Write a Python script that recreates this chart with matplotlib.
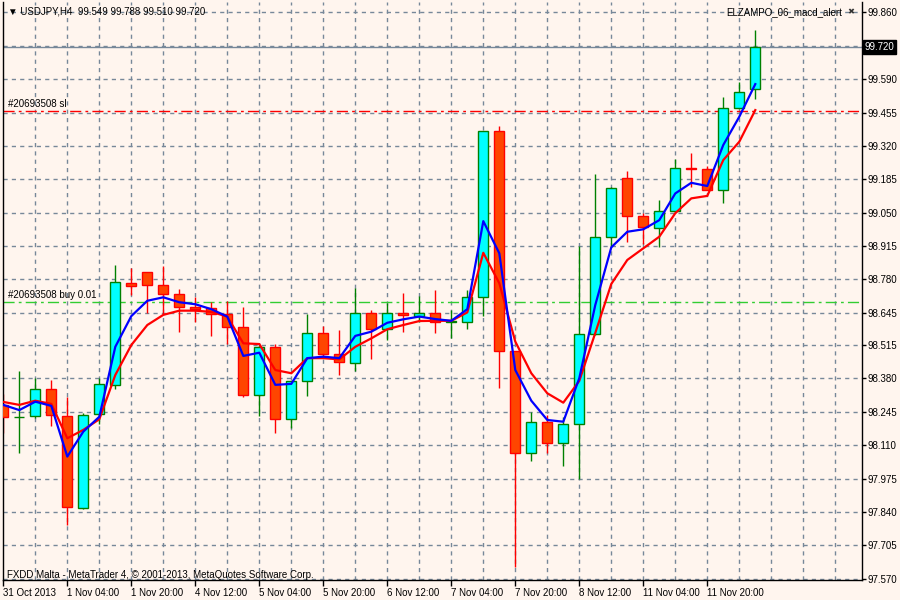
import matplotlib.pyplot as plt
from matplotlib.transforms import blended_transform_factory

plt.rcParams['font.family'] = ['Liberation Sans', 'DejaVu Sans']
plt.rcParams['lines.scale_dashes'] = False

# USDJPY H4 candles
opens = [98.273, 98.223, 98.227, 98.336, 98.228, 97.855, 98.235, 98.352, 98.765, 98.809,
         98.757, 98.720, 98.668, 98.664, 98.640, 98.587, 98.312, 98.506, 98.215, 98.368,
         98.562, 98.478, 98.444, 98.643, 98.579, 98.643, 98.634, 98.643, 98.609, 98.607,
         98.710, 99.379, 98.490, 98.077, 98.203, 98.118, 98.195, 98.558, 98.953, 99.189,
         99.037, 98.987, 99.058, 99.229, 99.225, 99.142, 99.472, 99.549]
highs = [98.317, 98.410, 98.381, 98.374, 98.306, 98.239, 98.383, 98.839, 98.825, 98.812,
         98.835, 98.742, 98.710, 98.690, 98.694, 98.670, 98.510, 98.518, 98.370, 98.640,
         98.592, 98.576, 98.747, 98.657, 98.686, 98.724, 98.713, 98.738, 98.657, 98.738,
         99.382, 99.402, 98.492, 98.243, 98.232, 98.225, 98.915, 99.206, 99.152, 99.219,
         99.050, 99.101, 99.267, 99.290, 99.239, 99.516, 99.580, 99.788]
lows = [98.161, 98.077, 98.219, 98.189, 97.788, 97.852, 98.196, 98.336, 98.717, 98.643,
        98.640, 98.569, 98.609, 98.553, 98.518, 98.306, 98.229, 98.158, 98.178, 98.310,
        98.472, 98.394, 98.411, 98.460, 98.535, 98.569, 98.609, 98.565, 98.542, 98.580,
        98.634, 98.340, 97.619, 98.048, 98.077, 98.027, 97.974, 98.555, 98.913, 98.933,
        98.924, 98.910, 99.055, 99.155, 99.140, 99.090, 99.470, 99.510]
closes = [98.223, 98.226, 98.336, 98.231, 97.859, 98.232, 98.358, 98.770, 98.754, 98.757,
          98.720, 98.668, 98.662, 98.640, 98.587, 98.313, 98.506, 98.215, 98.368, 98.562,
          98.478, 98.448, 98.643, 98.579, 98.643, 98.635, 98.643, 98.609, 98.613, 98.710,
          99.379, 98.490, 98.077, 98.205, 98.118, 98.195, 98.558, 98.953, 99.149, 99.037,
          98.991, 99.057, 99.229, 99.225, 99.142, 99.472, 99.539, 99.720]

# moving averages as drawn (blue fast, red slow)
ma_fast = [98.273, 98.252, 98.286, 98.269, 98.064, 98.165, 98.225, 98.508, 98.632, 98.694,
           98.708, 98.688, 98.680, 98.660, 98.630, 98.471, 98.484, 98.354, 98.358, 98.462,
           98.468, 98.462, 98.552, 98.569, 98.605, 98.619, 98.630, 98.620, 98.613, 98.660,
           99.016, 98.886, 98.414, 98.290, 98.212, 98.205, 98.381, 98.677, 98.910, 98.973,
           98.983, 99.020, 99.128, 99.171, 99.158, 99.324, 99.438, 99.570]
ma_slow = [98.285, 98.273, 98.290, 98.277, 98.138, 98.172, 98.215, 98.394, 98.515, 98.596,
           98.637, 98.654, 98.654, 98.649, 98.630, 98.522, 98.519, 98.414, 98.401, 98.462,
           98.462, 98.457, 98.508, 98.542, 98.579, 98.596, 98.612, 98.613, 98.613, 98.647,
           98.888, 98.765, 98.529, 98.401, 98.320, 98.282, 98.370, 98.564, 98.762, 98.859,
           98.906, 98.953, 99.048, 99.108, 99.118, 99.263, 99.337, 99.465]

time_labels = ['31 Oct 2013', '1 Nov 04:00', '1 Nov 20:00', '4 Nov 12:00', '5 Nov 04:00',
               '5 Nov 20:00', '6 Nov 12:00', '7 Nov 04:00', '7 Nov 20:00', '8 Nov 12:00',
               '11 Nov 04:00', '11 Nov 20:00']
price_labels = ['99.860', '99.590', '99.455', '99.320', '99.185', '99.050', '98.915',
                '98.780', '98.645', '98.515', '98.380', '98.245', '98.110', '97.975',
                '97.840', '97.705', '97.570']
hidden_grid = 99.725
bid = 99.720
sl_level = 99.461
buy_level = 98.690

BG = '#fff5ee'
GRID = '#778899'
DASH = (0, (3, 3))
DASHDOT = (0, (8, 3, 2, 3))

fig = plt.figure(figsize=(9, 6), dpi=100, facecolor=BG)
ax = fig.add_axes([3 / 900, 20 / 600, 859 / 900, 578 / 600], facecolor=BG)
ax.set_xlim(-0.02, 53.67)
ax.set_ylim(97.565, 99.902)

# grid
grid_levels = [float(v) for v in price_labels] + [hidden_grid]
for v in grid_levels:
    ax.axhline(v, color=GRID, lw=1, ls=DASH, zorder=0)
for b in range(2, 54, 2):
    ax.axvline(b, color=GRID, lw=1, ls=DASH, zorder=0)

# candles
for i, (o, h, l, c) in enumerate(zip(opens, highs, lows, closes)):
    bull = c >= o
    edge = '#008000' if bull else '#ff0000'
    fill = '#00ffff' if bull else '#ff4500'
    ax.vlines(i, l, h, color=edge, lw=1, zorder=2)
    ax.bar(i, abs(c - o), bottom=min(o, c), width=0.62, color=fill,
           edgecolor=edge, lw=1, zorder=3)

x = list(range(len(closes)))
ax.plot(x, ma_slow, color='#ff0000', lw=1.6, zorder=4)
ax.plot(x, ma_fast, color='#0000ff', lw=1.6, zorder=5)

# price and order lines
ax.axhline(bid, color=GRID, lw=1, zorder=1)
ax.axhline(sl_level, color='#ff0000', lw=1, ls=DASHDOT, zorder=1)
ax.axhline(buy_level, color='#32cd32', lw=1, ls=DASHDOT, zorder=1)
tr = blended_transform_factory(ax.transAxes, ax.transData)
ax.text(0.006, sl_level + 0.008, '#20693508 sl', transform=tr, fontsize=7,
        va='bottom', ha='left')
ax.text(0.006, buy_level + 0.008, '#20693508 buy 0.01', transform=tr, fontsize=7,
        va='bottom', ha='left')

# axes
for s in ['left', 'right', 'bottom']:
    ax.spines[s].set_color('black')
    ax.spines[s].set_linewidth(1)
ax.spines['top'].set_visible(False)

ax.yaxis.tick_right()
ax.set_yticks([float(v) for v in price_labels])
ax.set_yticklabels(price_labels)
ax.tick_params(axis='y', direction='out', length=3, width=1, labelsize=7, pad=1)

ax.set_xticks(range(0, 48, 4))
ax.set_xticklabels(time_labels, ha='left')
ax.tick_params(axis='x', direction='out', length=4, width=1, labelsize=7, pad=2)

ax.annotate('99.720', xy=(1, bid), xycoords=tr, xytext=(2, 0),
            textcoords='offset points', ha='left', va='center', fontsize=7,
            color='white', bbox=dict(boxstyle='square,pad=0.2', fc='black', ec='black'))

fig.text(8 / 900, 1 - 12 / 600, '\u25bc USDJPY,H4  99.549 99.788 99.510 99.720',
         fontsize=7, va='center', ha='left')
fig.text(842 / 900, 1 - 12 / 600, 'ELZAMPO_06_macd_alert', fontsize=7,
         va='center', ha='right')
fig.text(851 / 900, 1 - 12 / 600, '\u2716', fontsize=6, va='center', ha='center',
         family=['DejaVu Sans'], color='#333333')
fig.text(7 / 900, 1 - 575 / 600, 'FXDD Malta - MetaTrader 4, \u00a9 2001-2013, MetaQuotes Software Corp.',
         fontsize=7, va='center', ha='left')

fig.savefig('out.png', dpi=100, facecolor=BG)
